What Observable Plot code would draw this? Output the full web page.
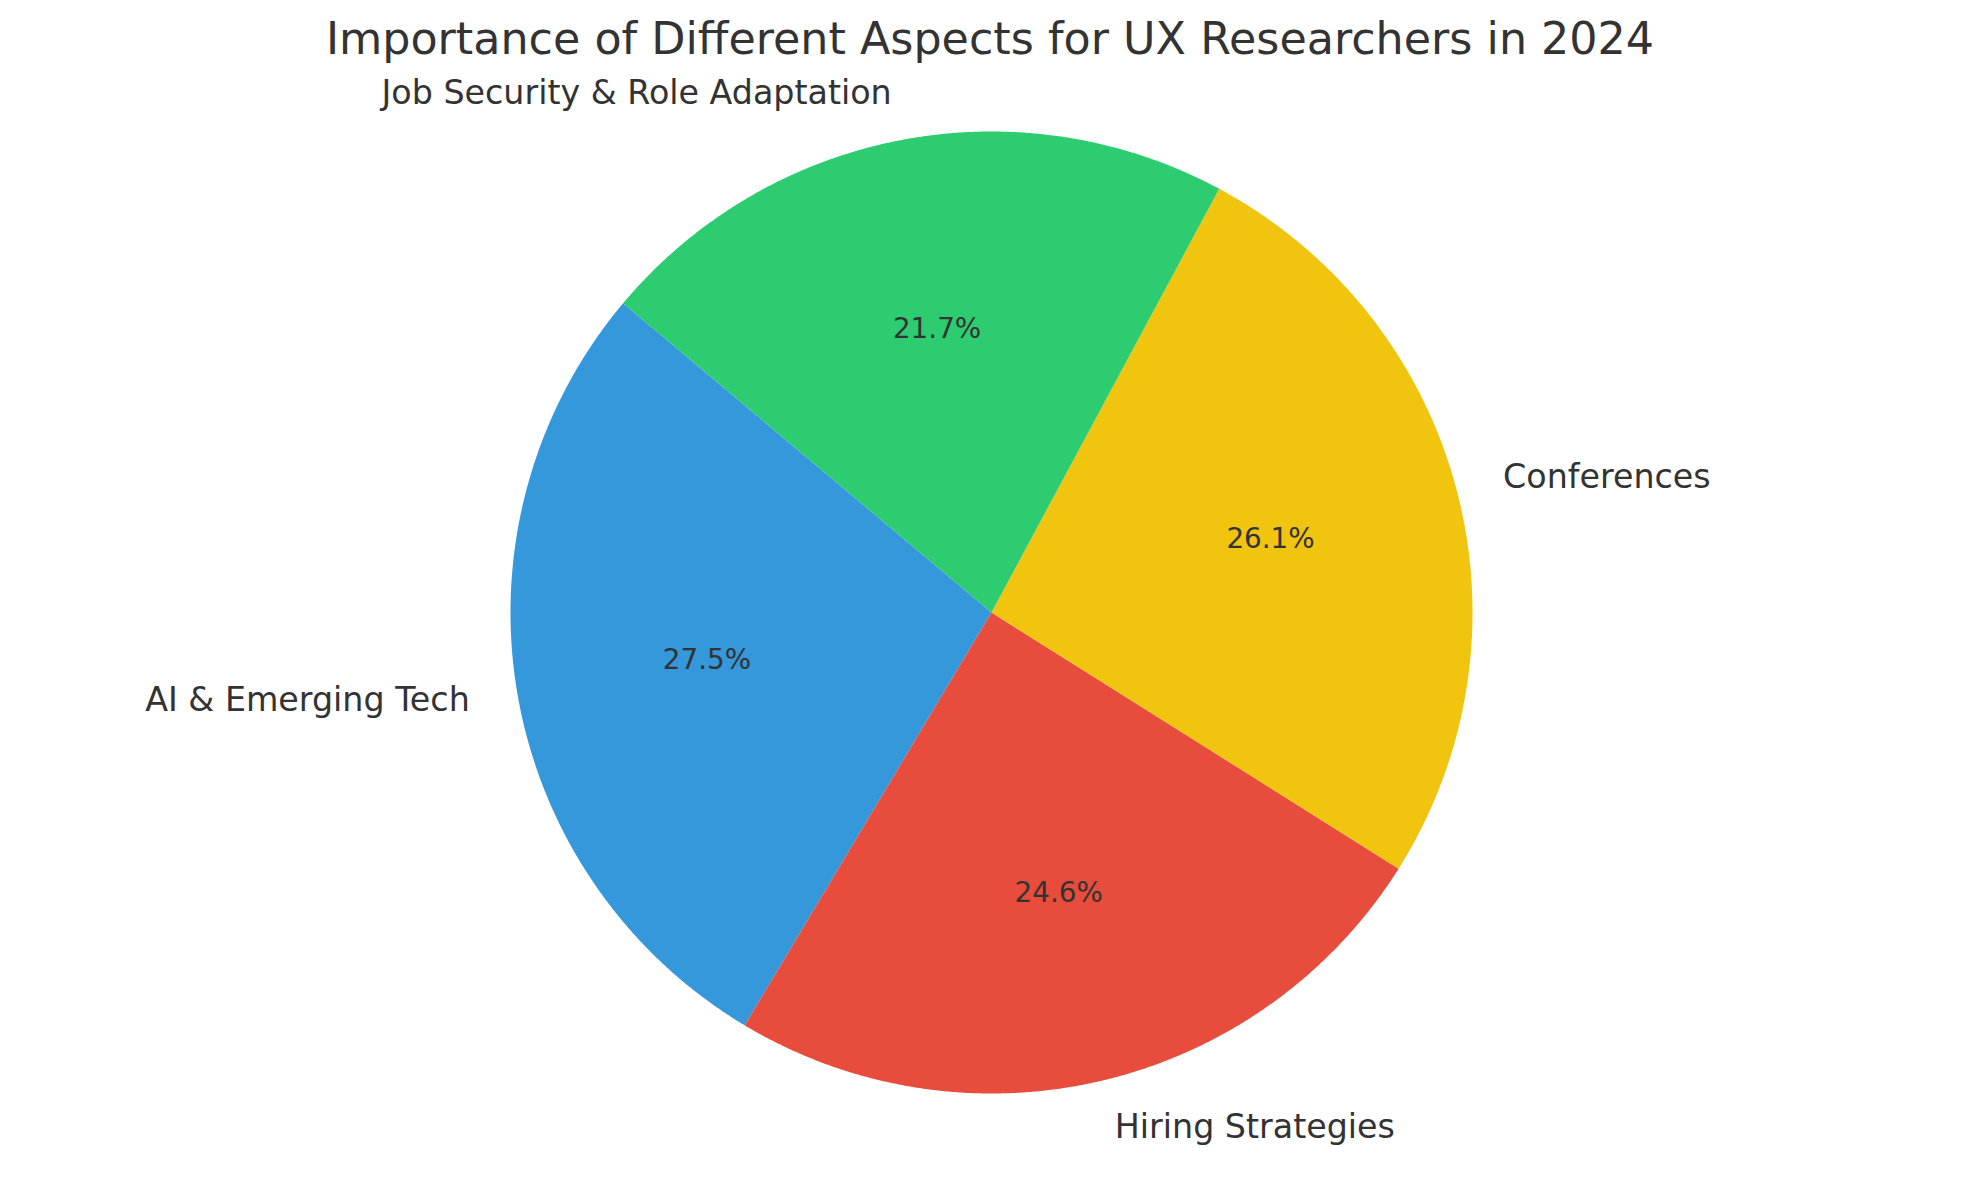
<!DOCTYPE html>
<html>
<head>
<meta charset="utf-8">
<script src="https://cdn.jsdelivr.net/npm/d3@7"></script>
<script src="https://cdn.jsdelivr.net/npm/@observablehq/plot@0.6"></script>
<style>
  html, body { margin: 0; padding: 0; background: #fff; }
</style>
</head>
<body>
<div id="chart"></div>
<script>
const title = "Importance of Different Aspects for UX Researchers in 2024";
const categories = ["AI & Emerging Tech", "Hiring Strategies", "Conferences", "Job Security & Role Adaptation"];
const values = [95, 85, 90, 75];
const colors = ["#3498db", "#e74c3c", "#f1c40f", "#2ecc71"];
const startAngle = 140; // degrees, counter-clockwise

const W = 1979, H = 1180;
const cx = 991, cy = 612, R = 481;

const total = d3.sum(values);
let cum = 0;
const wedges = categories.map((c, i) => {
  const a1 = startAngle + cum / total * 360;
  cum += values[i];
  const a2 = startAngle + cum / total * 360;
  return {cat: c, value: values[i], color: colors[i], a1, a2, mid: (a1 + a2) / 2, pct: values[i] / total * 100};
});

const wedgePts = [];
for (const w of wedges) {
  wedgePts.push({cat: w.cat, x: 0, y: 0});
  const n = Math.ceil((w.a2 - w.a1) / 0.25);
  for (let k = 0; k <= n; k++) {
    const a = (w.a1 + (w.a2 - w.a1) * k / n) * Math.PI / 180;
    wedgePts.push({cat: w.cat, x: Math.cos(a), y: Math.sin(a)});
  }
}

const labels = wedges.map(w => {
  const a = w.mid * Math.PI / 180;
  return {cat: w.cat, x: 1.1 * Math.cos(a), y: 1.1 * Math.sin(a),
          px: 0.6 * Math.cos(a), py: 0.6 * Math.sin(a), pct: w.pct.toFixed(1) + "%"};
});

const font = "DejaVu Sans, sans-serif";

const chart = Plot.plot({
  width: W,
  height: H,
  margin: 0,
  style: {fontFamily: font, background: "#fff"},
  x: {domain: [-cx / R, (W - cx) / R], axis: null},
  y: {domain: [-(H - cy) / R, cy / R], axis: null},
  marks: [
    ...wedges.map(w => Plot.line(wedgePts.filter(d => d.cat === w.cat), {
      x: "x", y: "y", fill: w.color, stroke: "none", curve: "linear-closed"
    })),
    Plot.text(labels.filter(d => d.x >= 0), {x: "x", y: "y", text: "cat", textAnchor: "start", fontSize: 33.3, fill: "#333", fontFamily: font}),
    Plot.text(labels.filter(d => d.x < 0), {x: "x", y: "y", text: "cat", textAnchor: "end", fontSize: 33.3, fill: "#333", fontFamily: font}),
    Plot.text(labels, {x: "px", y: "py", text: "pct", textAnchor: "middle", fontSize: 27.8, fill: "#333", fontFamily: font}),
    Plot.text([title], {frameAnchor: "top", lineAnchor: "middle", dy: 39, text: d => d, fontSize: 44.4, fill: "#333", fontFamily: font})
  ]
});
document.getElementById("chart").append(chart);
</script>
</body>
</html>
